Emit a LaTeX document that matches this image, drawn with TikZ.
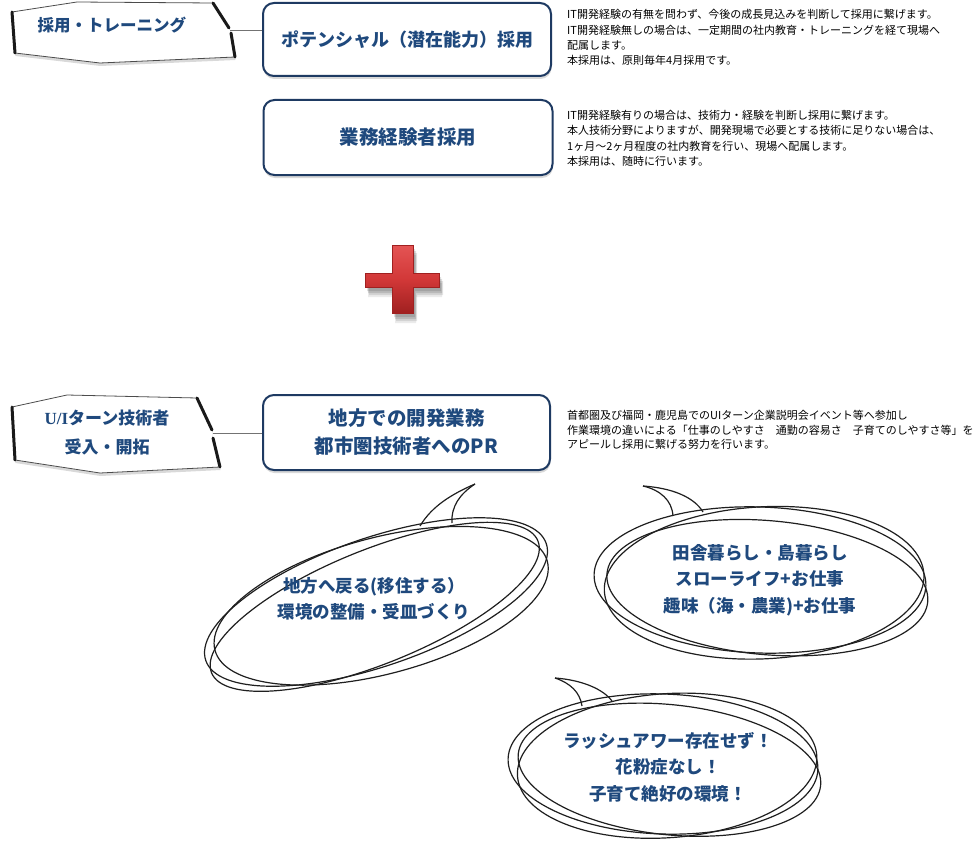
\documentclass[tikz,border=0pt]{standalone}
\usepackage{fontspec}
\setmainfont{Noto Sans CJK JP}
\newfontfamily\latserif{Liberation Serif}
\usetikzlibrary{shadows}
\definecolor{navytext}{RGB}{31,73,125}
\definecolor{boxborder}{RGB}{30,58,98}
\definecolor{crosslight}{RGB}{228,84,84}
\definecolor{crossmid}{RGB}{210,56,56}
\definecolor{crossdark}{RGB}{160,32,32}
\tikzset{
  rbox/.style={draw=boxborder, line width=2pt, fill=white, rounded corners=11pt,
    text=navytext, font=\bfseries\fontsize{19.5}{28}\selectfont, align=center,
    drop shadow={shadow xshift=0.5pt, shadow yshift=-3pt, opacity=0.3}},
  note/.style={anchor=base west, inner sep=0pt, font=\fontsize{11}{15}\selectfont, text=black},
  bubbletext/.style={text=navytext, font=\bfseries\fontsize{17.5}{26.5}\selectfont, align=center},
  scribble/.style={draw=black!88, line width=1.2pt},
  callouttext/.style={text=navytext, font=\bfseries\fontsize{16.5}{29}\selectfont, align=center},
  thickedge/.style={line width=3pt, line cap=round, draw=black!90},
  thinedge/.style={line width=0.8pt, draw=black!70},
  link/.style={draw=black!55, line width=1pt},
  callshape/.style={fill=white, drop shadow={shadow xshift=0.5pt, shadow yshift=-3pt, opacity=0.3}},
}
\begin{document}
\begin{tikzpicture}[x=1pt,y=-1pt]
\useasboundingbox (0,0) rectangle (978,843);

% ---------- callout A ----------
\path[callshape] (12,12) -- (77,2) -- (213,3) -- (229,28) -- (231,33) -- (235,57) -- (100,63) -- (15,53) -- cycle;
\draw[thinedge] (12,12) -- (77,2) -- (213,3);
\draw[thinedge] (235,57) -- (100,63) -- (15,53);
\draw[thickedge] (12,12) -- (15,53);
\draw[thickedge] (213,3) -- (229,28);
\draw[thickedge] (231,33) -- (235,57);
\node[callouttext] (calA) at (112,25) {採用・トレーニング};
\coordinate (tailA) at (230,30.5);

% ---------- boxes ----------
\node[rbox, font=\bfseries\fontsize{18}{28}\selectfont, minimum width=288pt, minimum height=73pt] (boxA) at (407,39.5) {ポテンシャル（潜在能力）採用};
\node[rbox, minimum width=289pt, minimum height=75pt] (boxB) at (408,137.5) {業務経験者採用};
\node[rbox, minimum width=287pt, minimum height=75pt] (boxC) at (406.5,432.5) {地方での開発業務\\都市圏技術者へのPR};

\draw[link] (tailA) -- (tailA -| boxA.west);

% ---------- notes ----------
\node[note] (nA1) at (567,18.7) {IT開発経験の有無を問わず、今後の成長見込みを判断して採用に繋げます。};
\node[note] (nA2) at (567,34.2) {IT開発経験無しの場合は、一定期間の社内教育・トレーニングを経て現場へ};
\node[note] (nA3) at (567,49.2) {配属します。};
\node[note] (nA4) at (567,64.3) {本採用は、原則毎年4月採用です。};

\node[note] (nB1) at (567,119.2) {IT開発経験有りの場合は、技術力・経験を判断し採用に繋げます。};
\node[note] (nB2) at (567,134.8) {本人技術分野によりますが、開発現場で必要とする技術に足りない場合は、};
\node[note] (nB3) at (567,150.1) {1ヶ月～2ヶ月程度の社内教育を行い、現場へ配属します。};
\node[note] (nB4) at (567,165.3) {本採用は、随時に行います。};

\node[note] (nC1) at (567,419.2) {首都圏及び福岡・鹿児島でのUIターン企業説明会イベント等へ参加し};
\node[note] (nC2) at (567,434) {作業環境の違いによる「仕事のしやすさ　通勤の容易さ　子育てのしやすさ等」を};
\node[note] (nC3) at (567,448.8) {アピールし採用に繋げる努力を行います。};

% ---------- red cross ----------
\foreach \dx/\dy/\op in {2/4/0.12, 3/6/0.12, 4/8/0.10, 3/10/0.08}{
  \fill[black, opacity=\op] ([shift={(\dx,\dy)}]392,245) -- ++(21,0) -- ++(0,28) -- ++(26,0) -- ++(0,14) -- ++(-26,0) -- ++(0,26) -- ++(-21,0) -- ++(0,-26) -- ++(-27,0) -- ++(0,-14) -- ++(27,0) -- cycle;
}
\shade[top color=crosslight, bottom color=crossdark, middle color=crossmid, draw=crossdark, line width=0.6pt]
  (392,245) -- (413,245) -- (413,273) -- (439,273) -- (439,287) -- (413,287) -- (413,313) -- (392,313) -- (392,287) -- (365,287) -- (365,273) -- (392,273) -- cycle;

% ---------- callout B ----------
\path[callshape] (12,407) -- (67,395) -- (197,398) -- (212,430) -- (213,438) -- (220,467) -- (100,473) -- (15,460) -- cycle;
\draw[thinedge] (12,407) -- (67,395) -- (197,398);
\draw[thinedge] (220,467) -- (100,473) -- (15,460);
\draw[thickedge] (12,407) -- (15,460);
\draw[thickedge] (197,398) -- (212,430);
\draw[thickedge] (213,438) -- (220,467);
\node[callouttext, font=\bfseries\fontsize{17}{29}\selectfont] (calB) at (107,432.5) {{\latserif U/I}ターン技術者\\受入・開拓};
\coordinate (tailB) at (212.5,433);
\draw[link] (tailB) -- (tailB -| boxC.west);

% ---------- bubble 1 ----------
\coordinate (b1c) at (376,602);
\fill[white, rotate around={19:(b1c)}] (b1c) ellipse [x radius=180pt, y radius=64pt];
\draw[scribble] (420,526) .. controls (432,506) and (452,494) .. (475,484);
\draw[scribble] (452,523) .. controls (451,506) and (460,494) .. (475,484);
\draw[scribble, rotate around={19:(b1c)}] (b1c) ellipse [x radius=180pt, y radius=64pt];
\draw[scribble, rotate around={15:(b1c)}] ([shift={(4,5)}]b1c) ellipse [x radius=172pt, y radius=68pt];
\draw[scribble, rotate around={22:(b1c)}] ([shift={(-3,4)}]b1c) ellipse [x radius=176pt, y radius=57pt];
\node[bubbletext] (t1) at (374,599) {地方へ戻る(移住する）\\環境の整備・受皿づくり};

% ---------- bubble 2 ----------
\coordinate (b2c) at (760,580);
\fill[white, rotate around={-2:(b2c)}] (b2c) ellipse [x radius=166pt, y radius=73pt];
\draw[scribble] (673,516) .. controls (672,500) and (660,490) .. (643,486);
\draw[scribble] (703,512) .. controls (694,497) and (672,488) .. (643,486);
\draw[scribble, rotate around={-2:(b2c)}] (b2c) ellipse [x radius=166pt, y radius=73pt];
\draw[scribble, rotate around={3:(b2c)}] ([shift={(4,3)}]b2c) ellipse [x radius=160pt, y radius=76pt];
\draw[scribble, rotate around={-5:(b2c)}] ([shift={(8,7)}]b2c) ellipse [x radius=161pt, y radius=67pt];
\node[bubbletext] (t2) at (760,580) {田舎暮らし・島暮らし\\スローライフ+お仕事\\趣味（海・農業)+お仕事};

% ---------- bubble 3 ----------
\coordinate (b3c) at (663,764);
\fill[white, rotate around={-2:(b3c)}] (b3c) ellipse [x radius=155pt, y radius=70pt];
\draw[scribble] (582,706) .. controls (580,692) and (570,683) .. (555,678);
\draw[scribble] (612,701) .. controls (603,689) and (582,680) .. (555,678);
\draw[scribble, rotate around={-2:(b3c)}] (b3c) ellipse [x radius=155pt, y radius=70pt];
\draw[scribble, rotate around={4:(b3c)}] ([shift={(4,2)}]b3c) ellipse [x radius=150pt, y radius=72pt];
\draw[scribble, rotate around={-6:(b3c)}] ([shift={(7,5)}]b3c) ellipse [x radius=152pt, y radius=65pt];
\node[bubbletext] (t3) at (668,767) {ラッシュアワー存在せず！\\花粉症なし！\\子育て絶好の環境！};
\end{tikzpicture}
\end{document}
